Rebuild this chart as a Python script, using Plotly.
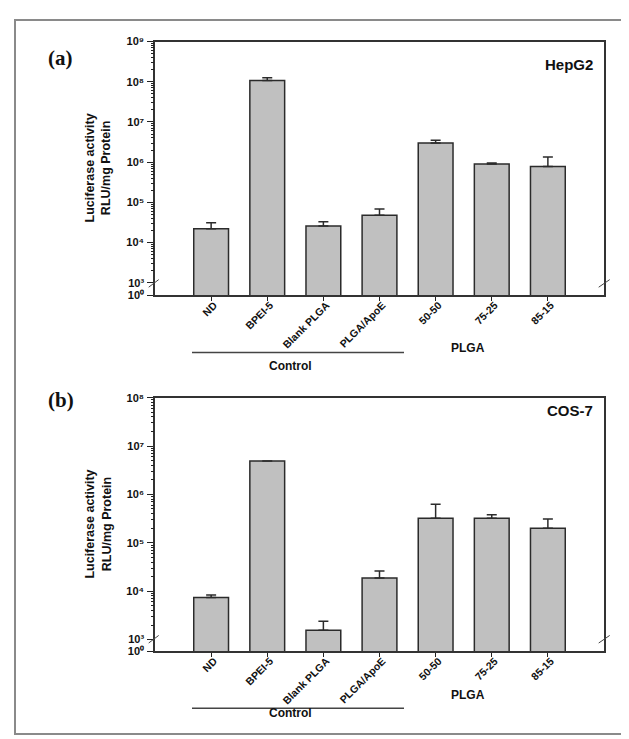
import numpy as np
import plotly.graph_objects as go

W, H = 629, 739

categories = ["ND", "BPEI-5", "Blank PLGA", "PLGA/ApoE", "50-50", "75-25", "85-15"]

# Panel (a) HepG2
hepg2_mean = [2.2e4, 1.07e8, 2.6e4, 4.8e4, 3.0e6, 9.0e5, 7.8e5]
hepg2_err = [0.9e4, 0.19e8, 0.7e4, 2.1e4, 0.5e6, 0.6e5, 5.7e5]

# Panel (b) COS-7
cos7_mean = [7.4e3, 4.9e6, 1.55e3, 1.87e4, 3.2e5, 3.2e5, 2.0e5]
cos7_err = [0.9e3, 0.0, 0.85e3, 0.73e4, 3.1e5, 0.6e5, 1.1e5]

major_a = [3, 4, 5, 6, 7, 8, 9]
major_b = [3, 4, 5, 6, 7, 8]
sup = {0: "\u2070", 2: "\u00b2", 3: "\u00b3", 4: "\u2074", 5: "\u2075", 6: "\u2076",
       7: "\u2077", 8: "\u2078", 9: "\u2079"}

FONT = "Liberation Sans, Arial, sans-serif"
DARK = "#2b2b2b"


def px_x(x):
    return x / W


def px_y(y):
    return 1 - y / H


fig = go.Figure()

panels = [
    dict(mean=hepg2_mean, err=hepg2_err, majors=major_a, top=28, bottom=286,
         lo=2.689, hi=9.0, label="(a)", cell="HepG2"),
    dict(mean=cos7_mean, err=cos7_err, majors=major_b, top=390, bottom=647.7,
         lo=2.76, hi=8.0, label="(b)", cell="COS-7"),
]

shapes = []
annotations = []
left, right = 147, 596

for i, p in enumerate(panels):
    xa = "x" if i == 0 else "x2"
    ya = "y" if i == 0 else "y2"
    ym = "y3" if i == 0 else "y4"
    fig.add_trace(go.Bar(
        x=categories, y=p["mean"], xaxis=xa, yaxis=ya, width=0.62,
        marker=dict(color="#c0c0c0", line=dict(color=DARK, width=1.5)),
        error_y=dict(type="data", array=p["err"], arrayminus=[0] * len(p["err"]),
                     symmetric=False, color=DARK, thickness=1.5, width=5),
        showlegend=False, hoverinfo="skip",
    ))
    # invisible trace carrying the minor-tick overlay axis
    fig.add_trace(go.Scatter(x=[categories[0]], y=[p["mean"][0]], xaxis=xa, yaxis=ym,
                             mode="markers", marker=dict(opacity=0), showlegend=False,
                             hoverinfo="skip"))
    major_vals = [10 ** (p["lo"] + 0.002)] + [10 ** m for m in p["majors"]]
    major_text = ["10" + sup[0]] + ["10" + sup[m] for m in p["majors"]]
    minor_vals = [k * 10 ** m for m in p["majors"][:-1] for k in range(2, 10)]
    sfx = "" if i == 0 else "2"
    msfx = "3" if i == 0 else "4"
    dom_y = [px_y(p["bottom"]), px_y(p["top"])]
    fig.update_layout(**{
        "xaxis" + sfx: dict(
            domain=[px_x(left), px_x(right)], range=[-1, 7], anchor="y" + sfx,
            showline=True, linecolor="#333", linewidth=1.5, mirror=True,
            ticks="outside", ticklen=4, tickcolor="#222", tickwidth=1.3, tickangle=-45,
            tickfont=dict(family=FONT, size=10.5, color="#111", weight="bold"),
            ticklabelstandoff=-6, ticklabelshift=3,
            showgrid=False, zeroline=False, fixedrange=True,
        ),
        "yaxis" + sfx: dict(
            domain=dom_y, type="log", range=[p["lo"], p["hi"]], anchor="x" + sfx,
            showline=True, linecolor="#333", linewidth=1.5, mirror=True,
            ticks="outside", ticklen=6, tickcolor="#222", tickwidth=1.3,
            tickmode="array", tickvals=major_vals, ticktext=major_text,
            tickfont=dict(family=FONT, size=11, color="#111", weight="bold"),
            showgrid=False, zeroline=False, ticklabelstandoff=1,
        ),
        "yaxis" + msfx: dict(
            type="log", range=[p["lo"], p["hi"]], overlaying="y" + sfx, anchor="x" + sfx,
            side="left", showline=False, ticks="outside", ticklen=3, tickcolor="#222",
            tickwidth=1.1, tickmode="array", tickvals=minor_vals, showticklabels=False,
            showgrid=False, zeroline=False,
        ),
    })
    b = p["bottom"]
    # axis break slashes
    shapes.append(dict(type="line", xref="paper", yref="paper",
                       x0=px_x(140.7), y0=px_y(b - 8.3), x1=px_x(150.7), y1=px_y(b - 16),
                       line=dict(color="#444", width=1)))
    shapes.append(dict(type="line", xref="paper", yref="paper",
                       x0=px_x(590.7), y0=px_y(b - 8.3), x1=px_x(601.7), y1=px_y(b - 16),
                       line=dict(color="#444", width=1)))
    # control bracket line
    shapes.append(dict(type="line", xref="paper", yref="paper",
                       x0=px_x(184), y0=px_y(b + 58), x1=px_x(396), y1=px_y(b + 58),
                       line=dict(color="#444", width=1.5)))
    annotations += [
        dict(text="Control", x=px_x(282), y=px_y(b + 72), xref="paper", yref="paper",
             showarrow=False, font=dict(family=FONT, size=12, color="#111", weight="bold")),
        dict(text="PLGA", x=px_x(479), y=px_y(b + 53.5), xref="paper", yref="paper",
             showarrow=False, font=dict(family=FONT, size=12, color="#111", weight="bold")),
        dict(text=p["label"], x=px_x(38), y=px_y(p["top"] + 2), xref="paper", yref="paper",
             showarrow=False,
             font=dict(family="Liberation Serif, Times New Roman, serif", size=21,
                       color="#111", weight="bold")),
        dict(text=p["cell"], x=px_x(587), y=px_y(p["top"] + 13), xref="paper", yref="paper",
             xanchor="right", showarrow=False,
             font=dict(family=FONT, size=15, color="#111", weight="bold")),
        dict(text="Luciferase activity<br>RLU/mg Protein", x=px_x(90),
             y=px_y(p["top"] + 129), xref="paper", yref="paper", textangle=-90,
             xanchor="center", yanchor="middle", showarrow=False,
             font=dict(family=FONT, size=12.5, color="#111", weight="bold")),
    ]

# outer frame
shapes.append(dict(type="rect", xref="paper", yref="paper",
                   x0=px_x(7), y0=px_y(732), x1=px_x(622), y1=px_y(6),
                   line=dict(color="#8a8a8a", width=2)))

fig.update_layout(
    width=W, height=H, margin=dict(l=0, r=0, t=0, b=0),
    paper_bgcolor="white", plot_bgcolor="white",
    shapes=shapes, annotations=annotations, bargap=0.38,
)

fig.write_html("out.html")
